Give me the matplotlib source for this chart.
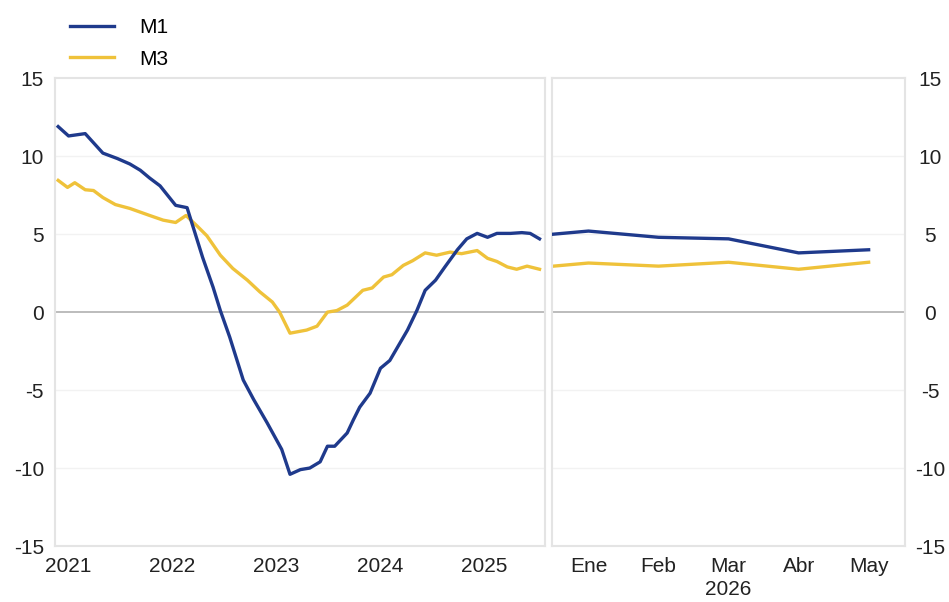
import matplotlib
matplotlib.use("Agg")
import matplotlib.pyplot as plt

plt.rcParams['font.family'] = ['Liberation Sans', 'DejaVu Sans']
plt.rcParams['axes.unicode_minus'] = False

# historico (anos decimais)
m1_x = [2021.00, 2021.10, 2021.26, 2021.43, 2021.57, 2021.69, 2021.79, 2021.88, 2021.98,
        2022.13, 2022.24, 2022.39, 2022.49, 2022.56, 2022.65, 2022.78, 2022.88, 2023.01,
        2023.15, 2023.23, 2023.33, 2023.42, 2023.52, 2023.59, 2023.66, 2023.78, 2023.84,
        2023.90, 2024.00, 2024.10, 2024.19, 2024.36, 2024.45, 2024.53, 2024.63, 2024.72,
        2024.84, 2024.93, 2025.03, 2025.13, 2025.22, 2025.35, 2025.46, 2025.54, 2025.63]
m1_y = [11.9, 11.3, 11.45, 10.2, 9.85, 9.5, 9.1, 8.6, 8.1,
        6.85, 6.7, 3.5, 1.6, 0.1, -1.6, -4.35, -5.6, -7.1,
        -8.8, -10.4, -10.1, -10.0, -9.6, -8.6, -8.6, -7.75, -6.9,
        -6.1, -5.2, -3.6, -3.1, -1.15, 0.1, 1.4, 2.05, 2.9,
        4.0, 4.7, 5.05, 4.8, 5.05, 5.05, 5.1, 5.05, 4.7]

m3_x = [2021.00, 2021.09, 2021.16, 2021.26, 2021.34, 2021.43, 2021.55, 2021.69, 2021.88,
        2022.01, 2022.13, 2022.23, 2022.34, 2022.43, 2022.56, 2022.68, 2022.82, 2022.94,
        2023.06, 2023.13, 2023.23, 2023.39, 2023.49, 2023.59, 2023.68, 2023.78, 2023.93,
        2024.02, 2024.13, 2024.21, 2024.32, 2024.41, 2024.53, 2024.64, 2024.77, 2024.88,
        2025.03, 2025.13, 2025.22, 2025.32, 2025.41, 2025.51, 2025.63]
m3_y = [8.45, 8.0, 8.3, 7.85, 7.8, 7.35, 6.9, 6.65, 6.2,
        5.9, 5.75, 6.2, 5.5, 4.9, 3.65, 2.8, 2.05, 1.3,
        0.65, 0.0, -1.35, -1.15, -0.9, 0.0, 0.1, 0.45, 1.4,
        1.55, 2.25, 2.4, 3.0, 3.3, 3.8, 3.65, 3.85, 3.75,
        3.95, 3.45, 3.25, 2.9, 2.75, 2.95, 2.75]

anos = ['2021', '2022', '2023', '2024', '2025']

# 2026
meses = ['Ene', 'Feb', 'Mar', 'Abr', 'May']
prev_x = [-0.5, 0, 1, 2, 3, 4]
m1_prev = [5.0, 5.2, 4.8, 4.7, 3.8, 4.0]
m3_prev = [2.95, 3.15, 2.95, 3.2, 2.75, 3.2]

azul = '#1f3a8c'
amarelo = '#efc23a'
cinza_borda = '#e4e4e4'
fs = 15

fig = plt.figure(figsize=(9.49, 6.02), dpi=100)
ax1 = fig.add_axes([0.058, 0.093, 0.516, 0.777])
ax2 = fig.add_axes([0.5817, 0.093, 0.372, 0.777])

for ax in (ax1, ax2):
    ax.set_ylim(-15, 15)
    ax.set_yticks([-15, -10, -5, 0, 5, 10, 15])
    for v in (-10, -5, 5, 10):
        ax.axhline(v, color='#f2f2f2', lw=1, zorder=0)
    ax.axhline(0, color='#b0b0b0', lw=1.2, zorder=1)
    for s in ax.spines.values():
        s.set_color(cinza_borda)
        s.set_linewidth(1.5)
    ax.tick_params(length=0, labelsize=fs, colors='#222222')

l1, = ax1.plot(m1_x, m1_y, color=azul, lw=2.4, label='M1', zorder=3)
l3, = ax1.plot(m3_x, m3_y, color=amarelo, lw=2.4, label='M3', zorder=2)
ax1.set_xlim(2020.97, 2025.68)
ax1.set_xticks([int(a) + 0.1 for a in anos])
ax1.set_xticklabels(anos)
ax1.tick_params(axis='y', pad=8)
ax1.tick_params(axis='x', pad=8)

ax2.plot(prev_x, m1_prev, color=azul, lw=2.4, zorder=3)
ax2.plot(prev_x, m3_prev, color=amarelo, lw=2.4, zorder=2)
ax2.set_xlim(-0.52, 4.52)
ax2.set_xticks(range(len(meses)))
ax2.set_xticklabels(meses)
ax2.tick_params(axis='x', pad=8)
ax2.yaxis.tick_right()
ax2.tick_params(axis='y', pad=18)
for lab in ax2.get_yticklabels():
    lab.set_horizontalalignment('center')
ax2.text(2, -0.072, '2026', transform=ax2.get_xaxis_transform(), ha='center', va='top',
         fontsize=fs, color='#222222')

fig.legend(handles=[l1, l3], loc='upper left', bbox_to_anchor=(0.0738, 0.970),
           frameon=False, fontsize=fs, handlelength=2.1, handletextpad=1.2,
           labelspacing=0.6, borderpad=0, borderaxespad=0)

fig.savefig('out.png', dpi=100, facecolor='white')
